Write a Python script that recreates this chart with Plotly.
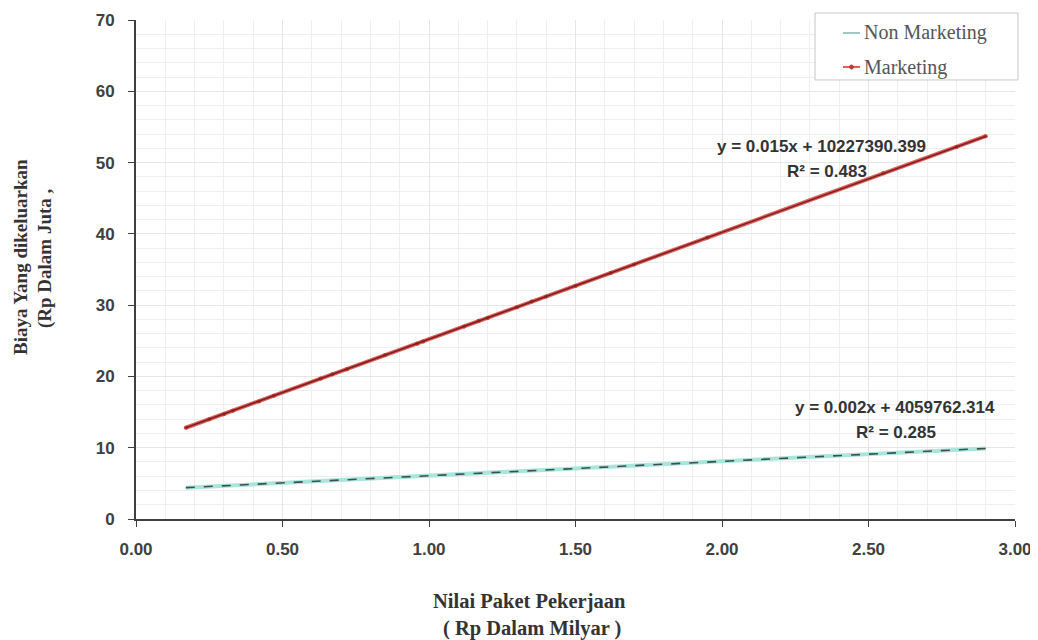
import plotly.graph_objects as go

# Data
mkt_x = [0.17, 0.25, 0.30, 0.33, 0.42, 0.47, 0.63, 0.67, 0.72, 0.85, 0.96, 0.98,
         1.12, 1.17, 1.20, 1.30, 1.35, 1.40, 1.50, 1.62, 1.70, 1.95, 2.55, 2.80, 2.90]
mkt_y = [12.8, 14.0, 14.7, 15.2, 16.5, 17.3, 19.7, 20.3, 21.0, 23.0, 24.6, 24.9,
         27.0, 27.8, 28.2, 29.7, 30.5, 31.2, 32.7, 34.5, 35.7, 39.5, 48.5, 52.2, 53.7]
non_x = [0.17, 0.50, 1.00, 1.50, 2.00, 2.50, 2.90]
non_y = [4.4, 5.1, 6.1, 7.1, 8.1, 9.1, 9.9]
trend_mkt_x = [0.17, 2.90]
trend_mkt_y = [12.8, 53.7]
trend_non_x = [0.17, 2.90]
trend_non_y = [4.4, 9.9]
series_names = ["Non Marketing", "Marketing"]
eq_mkt = ["y = 0.015x + 10227390.399", "R² = 0.483"]
eq_non = ["y = 0.002x + 4059762.314", "R² = 0.285"]
x_title = ["Nilai Paket Pekerjaan", "( Rp Dalam Milyar )"]
y_title = ["Biaya Yang dikeluarkan", "(Rp Dalam Juta ,"]

C_NON = "#a8e6dc"
C_MKT = "#e0605a"

fig = go.Figure()
fig.add_trace(go.Scatter(x=non_x, y=non_y, mode="lines", name=series_names[0],
                         line=dict(color=C_NON, width=4)))
fig.add_trace(go.Scatter(x=mkt_x, y=mkt_y, mode="lines+markers", name=series_names[1],
                         line=dict(color=C_MKT, width=4),
                         marker=dict(color="#c0392b", size=4)))
fig.add_trace(go.Scatter(x=trend_non_x, y=trend_non_y, mode="lines", showlegend=False,
                         line=dict(color="#3e4e4a", width=1.6, dash="dash")))
fig.add_trace(go.Scatter(x=trend_mkt_x, y=trend_mkt_y, mode="lines", showlegend=False,
                         line=dict(color="#7a1f22", width=1.6)))

eqfont = dict(family="Liberation Sans", size=17, color="#333333")
for xx, yy, tt in [(2.341, 52.25, eq_mkt[0]), (2.358, 48.73, eq_mkt[1]),
                   (2.590, 15.63, eq_non[0]), (2.594, 12.11, eq_non[1])]:
    fig.add_annotation(x=xx, y=yy, text="<b>%s</b>" % tt, showarrow=False, font=eqfont,
                       xanchor="center", yanchor="middle")

# axis titles
tfont = dict(family="Liberation Serif", size=20.5, color="#333333")
fig.add_annotation(xref="paper", yref="paper", x=0.448, y=-0.166, text="<b>%s</b>" % x_title[0],
                   showarrow=False, font=tfont, xanchor="center", yanchor="middle")
fig.add_annotation(xref="paper", yref="paper", x=0.450, y=-0.220, text="<b>%s</b>" % x_title[1],
                   showarrow=False, font=tfont, xanchor="center", yanchor="middle")
yfont = dict(family="Liberation Serif", size=19, color="#333333")
fig.add_annotation(xref="paper", yref="paper", x=-0.1320, y=0.525, text="<b>%s</b>" % y_title[0],
                   showarrow=False, font=yfont, textangle=-90, xanchor="center", yanchor="middle")
fig.add_annotation(xref="paper", yref="paper", x=-0.1035, y=0.523, text="<b>%s</b>" % y_title[1],
                   showarrow=False, font=yfont, textangle=-90, xanchor="center", yanchor="middle")

# custom legend
fig.add_shape(type="rect", xref="paper", yref="paper", x0=0.7725, x1=1.0034, y0=0.8798, y1=1.014,
              line=dict(color="#c8c8c8", width=1), fillcolor="white", layer="above")
fig.add_shape(type="line", xref="paper", yref="paper", x0=0.8043, x1=0.8237, y0=0.974, y1=0.974,
              line=dict(color="#9fc9c2", width=2), layer="above")
fig.add_shape(type="line", xref="paper", yref="paper", x0=0.8043, x1=0.8237, y0=0.9058, y1=0.9058,
              line=dict(color=C_MKT, width=2), layer="above")
fig.add_shape(type="circle", xref="paper", yref="paper", x0=0.8118, x1=0.8162, y0=0.9018, y1=0.9098,
              line=dict(color="#c0392b", width=1), fillcolor="#c0392b", layer="above")
lfont = dict(family="Liberation Serif", size=20, color="#555555")
fig.add_annotation(xref="paper", yref="paper", x=0.826, y=0.974, xanchor="left", yanchor="middle",
                   text=series_names[0], showarrow=False, font=lfont)
fig.add_annotation(xref="paper", yref="paper", x=0.826, y=0.9058, xanchor="left", yanchor="middle",
                   text=series_names[1], showarrow=False, font=lfont)

tickfont = dict(family="Liberation Sans", size=17, color="#404040")
grid = "#e6e6e6"
# figure is placed 8px in from the page corner (default body margin), so it is 8px smaller
fig.update_layout(
    width=1030, height=632,
    margin=dict(l=128, r=23, t=12, b=121),
    paper_bgcolor="white", plot_bgcolor="white",
    showlegend=False,
    xaxis=dict(range=[0, 3], dtick=0.5, tickformat=".2f", automargin=False,
               showgrid=True, gridcolor=grid, gridwidth=1,
               minor=dict(dtick=0.1, showgrid=True, gridcolor="#efefef"),
               showline=True, linecolor="#404040", linewidth=2,
               ticks="outside", ticklen=6, tickcolor="#404040", ticklabelstandoff=8,
               tickfont=tickfont, zeroline=False,
               tickprefix="<b>", ticksuffix="</b>"),
    yaxis=dict(range=[0, 70], dtick=10, automargin=False,
               showgrid=True, gridcolor=grid, gridwidth=1,
               minor=dict(dtick=2, showgrid=True, gridcolor="#efefef"),
               showline=True, linecolor="#404040", linewidth=2,
               ticks="outside", ticklen=6, tickcolor="#404040", ticklabelstandoff=10,
               tickfont=tickfont, zeroline=False,
               tickprefix="<b>", ticksuffix="</b>"),
)

fig.write_html("out.html")
